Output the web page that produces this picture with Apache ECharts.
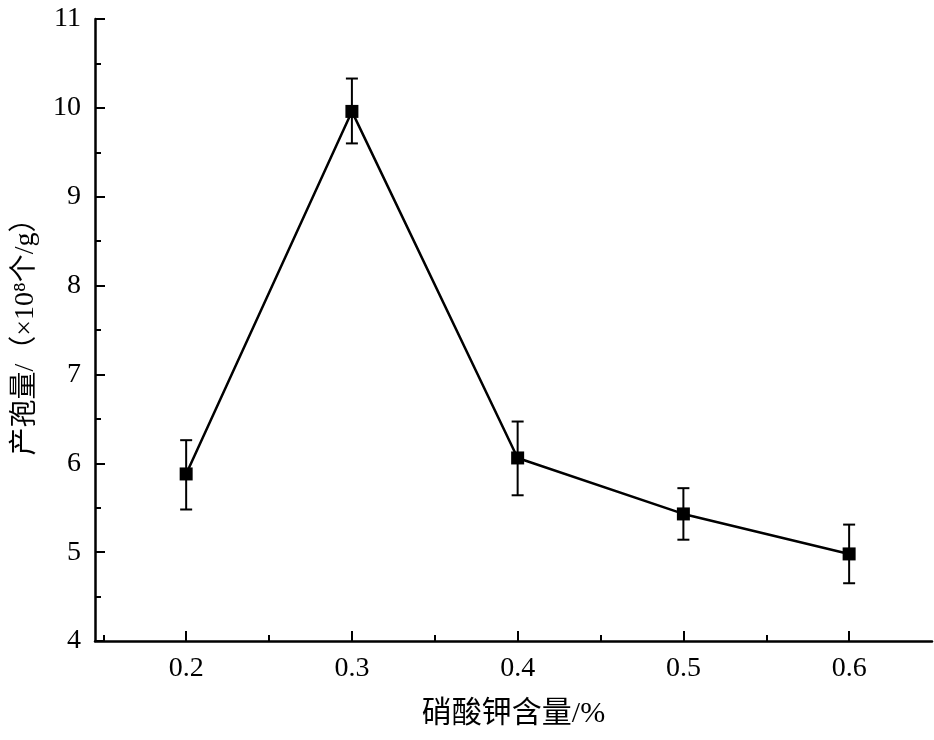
<!doctype html>
<html lang="zh">
<head>
    <meta charset="utf-8">
    <title>产孢量</title>
    <script src="https://cdn.jsdelivr.net/npm/echarts@6/dist/echarts.min.js"></script>
    <style>html,body{margin:0;padding:0;background:#fff}</style>
</head>
<body>
    <div id="main" style="width:934px;height:740px;"></div>
    <script>
        var xValues = [0.2, 0.3, 0.4, 0.5, 0.6];
        var yMeans = [5.88, 9.96, 6.06, 5.43, 4.98];
        var yUpper = [6.26, 10.33, 6.47, 5.72, 5.31];
        var yLower = [5.48, 9.60, 5.64, 5.14, 4.65];
        var xMinorTicks = [0.15, 0.25, 0.35, 0.45, 0.55];

        var font = '"Liberation Serif", "Noto Sans CJK SC", serif';
        var myChart = echarts.init(document.getElementById('main'));

        var points = xValues.map(function (x, i) { return [x, yMeans[i]]; });
        var bars = xValues.map(function (x, i) { return [x, yLower[i], yUpper[i]]; });

        var option = {
            animation: false,
            grid: { left: 95, right: 2, top: 19, bottom: 99 },
            xAxis: [{
                type: 'value', min: 0.145, max: 0.65,
                name: '硝酸钾含量/%', nameLocation: 'middle', nameGap: 58,
                nameTextStyle: { fontFamily: font, fontSize: 30, color: '#000' },
                axisLine: { lineStyle: { color: '#000', width: 2.5 } },
                axisTick: { inside: true, length: 10, customValues: xValues, lineStyle: { width: 2 } },
                axisLabel: { customValues: xValues, fontFamily: font, fontSize: 28, color: '#000', margin: 14,
                    formatter: function (v) { return v.toFixed(1); } },
                splitLine: { show: false }
            }, {
                type: 'value', min: 0.145, max: 0.65, position: 'bottom',
                axisLine: { show: false },
                axisTick: { inside: true, length: 6, customValues: xMinorTicks, lineStyle: { width: 2, color: '#000' } },
                axisLabel: { show: false },
                splitLine: { show: false }
            }],
            yAxis: {
                type: 'value', min: 4, max: 11, interval: 1,
                name: '产孢量/（×10⁸个/g）', nameLocation: 'middle', nameGap: 55,
                nameTextStyle: { fontFamily: font, fontSize: 28, color: '#000' },
                axisLine: { show: true, lineStyle: { color: '#000', width: 2.5 } },
                axisTick: { inside: true, length: 10, lineStyle: { width: 2 } },
                minorTick: { show: true, splitNumber: 2, length: 6, lineStyle: { color: '#000', width: 2 } },
                axisLabel: { fontFamily: font, fontSize: 28, color: '#000', margin: 14 },
                splitLine: { show: false }
            },
            series: [{
                type: 'line', data: points, symbol: 'rect', symbolSize: 13,
                lineStyle: { color: '#000', width: 2.5 }, itemStyle: { color: '#000' }, z: 3
            }, {
                type: 'custom', data: bars, z: 2,
                renderItem: function (params, api) {
                    var top = api.coord([api.value(0), api.value(2)]);
                    var bot = api.coord([api.value(0), api.value(1)]);
                    var w = 6;
                    var st = { stroke: '#000', lineWidth: 2 };
                    return { type: 'group', children: [
                        { type: 'line', shape: { x1: top[0], y1: top[1], x2: bot[0], y2: bot[1] }, style: st },
                        { type: 'line', shape: { x1: top[0] - w, y1: top[1], x2: top[0] + w, y2: top[1] }, style: st },
                        { type: 'line', shape: { x1: bot[0] - w, y1: bot[1], x2: bot[0] + w, y2: bot[1] }, style: st }
                    ] };
                }
            }]
        };
        myChart.setOption(option);
    </script>
</body>
</html>
